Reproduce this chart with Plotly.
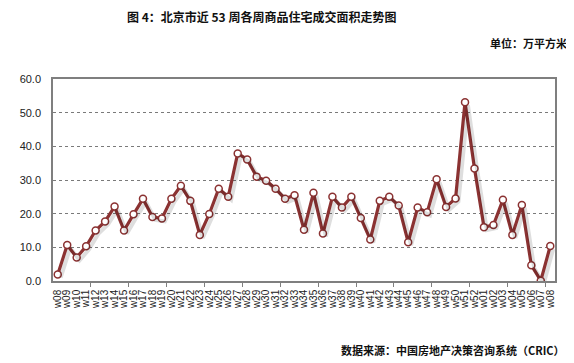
import plotly.graph_objects as go

weeks = ["w08","w09","w10","w11","w12","w13","w14","w15","w16","w17","w18","w19","w20",
         "w21","w22","w23","w24","w25","w26","w27","w28","w29","w30","w31","w32","w33",
         "w34","w35","w36","w37","w38","w39","w40","w41","w42","w43","w44","w45","w46",
         "w47","w48","w49","w50","w51","w52","w01","w02","w03","w04","w05","w06","w07","w08"]
area = [1.9, 10.7, 7.0, 10.3, 15.0, 17.7, 22.1, 15.0, 19.8, 24.4, 19.0, 18.6, 24.4,
        28.3, 23.8, 13.7, 19.9, 27.4, 25.0, 37.9, 36.1, 31.0, 29.8, 27.4, 24.4, 25.5,
        15.2, 26.2, 14.1, 25.0, 21.8, 25.0, 18.7, 12.3, 23.8, 25.0, 22.4, 11.5, 21.8,
        20.4, 30.2, 22.0, 24.5, 53.1, 33.4, 16.0, 16.6, 24.1, 13.7, 22.6, 4.7, 0.1, 10.4]
y_ticks = [0, 10, 20, 30, 40, 50, 60]
y_ticktext = ["0.0", "10.0", "20.0", "30.0", "40.0", "50.0", "60.0"]

idx = list(range(len(weeks)))
n = len(weeks)
group_ticks = [i + 3.5 for i in range(0, n - 4, 4)]

LINE = "#8B3232"
OFF = 8  # default body margin of the html page
W, H = 574 - OFF, 363 - OFF
ML, MR, MT, MB = 40 - OFF, 19, 79 - OFF, 82
pw = W - ML - MR
ph = H - MT - MB

def px_x(p):
    return (p - OFF - ML) / pw

def px_y(p):
    return 1 - (p - OFF - MT) / ph

fig = go.Figure()

# soft shadow of the line (drawn on shifted overlay axes)
fig.add_trace(go.Scatter(x=idx, y=area, mode="lines", xaxis="x3", yaxis="y2",
                         line=dict(color="rgba(0,0,0,0.13)", width=4),
                         hoverinfo="skip", showlegend=False))
# invisible trace to activate the group-tick axis
fig.add_trace(go.Scatter(x=idx, y=area, mode="lines", xaxis="x2", yaxis="y",
                         line=dict(color="rgba(0,0,0,0)", width=0),
                         hoverinfo="skip", showlegend=False))
fig.add_trace(go.Scatter(x=idx, y=area, mode="lines+markers",
                         line=dict(color=LINE, width=3.2),
                         marker=dict(size=7, color="white", line=dict(color=LINE, width=1.5)),
                         showlegend=False))

sx = 3 / pw * n
sy = 3 / ph * 60

fig.update_layout(
    width=W, height=H, autosize=False,
    margin=dict(l=ML, r=MR, t=MT, b=MB),
    paper_bgcolor="white", plot_bgcolor="white",
    font=dict(family="Liberation Sans, Arial, sans-serif", color="#222"),
    xaxis=dict(type="linear", range=[-0.5, n - 0.5], tickvals=idx, ticktext=weeks,
               tickangle=-90, ticks="", tickfont=dict(size=10, color="#222"),
               showgrid=False, zeroline=False, showline=True, linecolor="#7f7f7f",
               linewidth=1.5, mirror=True, ticklabelstandoff=3),
    xaxis2=dict(overlaying="x", anchor="y", range=[-0.5, n - 0.5], tickvals=group_ticks,
                ticks="outside", ticklen=5, tickcolor="#7f7f7f", tickwidth=1.2,
                showticklabels=False, showgrid=False, zeroline=False, side="bottom"),
    xaxis3=dict(overlaying="x", anchor="y2", range=[-0.5 - sx, n - 0.5 - sx],
                visible=False),
    yaxis=dict(range=[0, 60], tickvals=y_ticks, ticktext=y_ticktext,
               tickfont=dict(size=11, color="#222"), ticks="",
               showgrid=True, gridcolor="#7a7a7a", griddash="dot", gridwidth=1,
               zeroline=False, showline=True, linecolor="#7f7f7f", linewidth=1.5,
               mirror=True, ticklabelstandoff=8),
    yaxis2=dict(overlaying="y", anchor="x3", range=[0 + sy, 60 + sy], visible=False),
)

cjk = "Noto Sans CJK SC"
fig.add_annotation(text="<b>图 4：北京市近 53 周各周商品住宅成交面积走势图</b>",
                   xref="paper", yref="paper", x=px_x(254), y=px_y(17),
                   xanchor="center", yanchor="middle", showarrow=False,
                   font=dict(family=cjk, size=12, color="#111"))
fig.add_annotation(text="<b>单位：万平方米</b>",
                   xref="paper", yref="paper", x=px_x(569), y=px_y(43),
                   xanchor="right", yanchor="middle", showarrow=False,
                   font=dict(family=cjk, size=11, color="#111"))
fig.add_annotation(text="<b>数据来源：中国房地产决策咨询系统（CRIC）</b>",
                   xref="paper", yref="paper", x=px_x(567), y=px_y(350),
                   xanchor="right", yanchor="middle", showarrow=False,
                   font=dict(family=cjk, size=11, color="#111"))

fig.write_html("out.html")
